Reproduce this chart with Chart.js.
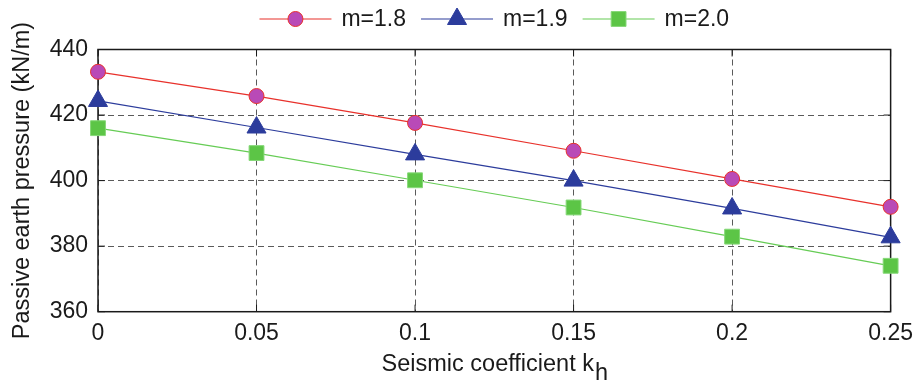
<!DOCTYPE html>
<html>
<head>
<meta charset="utf-8">
<script src="https://cdn.jsdelivr.net/npm/chart.js@4"></script>
<style>
  html, body { margin: 0; padding: 0; background: #fff; }
  #wrap { width: 921px; height: 383px; }
</style>
</head>
<body>
<div id="wrap"><canvas id="chart" width="921" height="383"></canvas></div>
<script>
// values
const kh = [0, 0.05, 0.1, 0.15, 0.2, 0.25];
const m18 = [433.2, 425.8, 417.6, 409.1, 400.5, 392.0];
const m19 = [424.3, 416.2, 408.0, 400.0, 391.5, 382.7];
const m20 = [416.0, 408.4, 400.1, 391.8, 382.9, 374.0];
const seriesNames = ['m=1.8', 'm=1.9', 'm=2.0'];
const xTicks = [0, 0.05, 0.1, 0.15, 0.2, 0.25];
const yTicks = [360, 380, 400, 420, 440];

const FONT = 'Liberation Sans, Arial, Helvetica, sans-serif';
const TXT = '#1a1a1a';

function pts(vals) {
    return vals.map((v, i) => ({ x: kh[i], y: v }));
}

// frame + inner ticks, drawn under the markers
const framePlugin = {
    id: 'frame',
    beforeDatasetsDraw(chart) {
        const { ctx, chartArea: a, scales } = chart;
        ctx.save();
        ctx.strokeStyle = '#1a1a1a';
        ctx.lineWidth = 1.5;
        ctx.setLineDash([]);
        ctx.strokeRect(a.left, a.top, a.right - a.left, a.bottom - a.top);
        ctx.lineWidth = 1;
        yTicks.forEach(t => {
            const y = scales.y.getPixelForValue(t);
            ctx.beginPath();
            ctx.moveTo(a.left, y); ctx.lineTo(a.left + 7, y);
            ctx.moveTo(a.right, y); ctx.lineTo(a.right - 7, y);
            ctx.stroke();
        });
        xTicks.forEach(t => {
            const x = scales.x.getPixelForValue(t);
            ctx.beginPath();
            ctx.moveTo(x, a.bottom); ctx.lineTo(x, a.bottom - 7);
            ctx.moveTo(x, a.top); ctx.lineTo(x, a.top + 7);
            ctx.stroke();
        });
        ctx.restore();
    }
};

// legend with line + marker, and x title with subscript
const extrasPlugin = {
    id: 'extras',
    afterDraw(chart) {
        const { ctx, chartArea: a } = chart;
        ctx.save();
        ctx.font = '23px ' + FONT;
        ctx.fillStyle = TXT;
        ctx.textBaseline = 'middle';
        const lineLen = 72, gapTxt = 10, gapItem = 15;
        const sets = chart.data.datasets;
        let total = 0;
        const widths = sets.map(d => ctx.measureText(d.label).width);
        widths.forEach((w, i) => { total += lineLen + gapTxt + w + (i < sets.length - 1 ? gapItem : 0); });
        let x = (a.left + a.right) / 2 - total / 2;
        const y = 19;
        sets.forEach((d, i) => {
            ctx.strokeStyle = d.borderColor;
            ctx.lineWidth = d.borderWidth;
            ctx.beginPath();
            ctx.moveTo(x, y); ctx.lineTo(x + lineLen, y);
            ctx.stroke();
            ctx.fillStyle = d.pointBackgroundColor;
            ctx.strokeStyle = d.pointBorderColor;
            ctx.lineWidth = d.pointBorderWidth;
            Chart.helpers.drawPoint(ctx, {
                pointStyle: d.pointStyle, radius: d.pointRadius, borderWidth: d.pointBorderWidth, rotation: 0
            }, x + lineLen / 2, y);
            ctx.fillStyle = TXT;
            ctx.textAlign = 'left';
            ctx.fillText(d.label, x + lineLen + gapTxt, y + 1);
            x += lineLen + gapTxt + widths[i] + gapItem;
        });

        // x axis title
        ctx.font = '23.5px ' + FONT;
        ctx.textBaseline = 'alphabetic';
        const main = 'Seismic coefficient k';
        const sub = 'h';
        const w1 = ctx.measureText(main).width;
        const w2 = ctx.measureText(sub).width;
        const x0 = (a.left + a.right) / 2 - (w1 + w2) / 2;
        ctx.fillText(main, x0, 370.5);
        ctx.fillText(sub, x0 + w1 + 1, 380);
        ctx.restore();
    }
};

const gridStyle = {
    color: '#5a5a5a',
    lineWidth: 1,
    drawTicks: false
};

new Chart(document.getElementById('chart'), {
    type: 'line',
    data: {
        datasets: [
            {
                label: seriesNames[0], data: pts(m18),
                borderColor: '#e8312b', borderWidth: 1.2,
                pointStyle: 'circle', pointRadius: 7.5,
                pointBackgroundColor: '#b94ab7', pointBorderColor: '#e8312b', pointBorderWidth: 1,
                clip: false
            },
            {
                label: seriesNames[1], data: pts(m19),
                borderColor: '#2c3c9c', borderWidth: 1.2,
                pointStyle: 'triangle', pointRadius: 11,
                pointBackgroundColor: '#2c3c9c', pointBorderColor: '#2c3c9c', pointBorderWidth: 1,
                clip: false
            },
            {
                label: seriesNames[2], data: pts(m20),
                borderColor: '#66cc55', borderWidth: 1.2,
                pointStyle: 'rect', pointRadius: 10.5,
                pointBackgroundColor: '#5cc546', pointBorderColor: '#86d878', pointBorderWidth: 1,
                clip: false
            }
        ]
    },
    options: {
        responsive: false,
        animation: false,
        layout: { padding: { top: 49.5, right: 29, left: 0, bottom: 0 } },
        plugins: { legend: { display: false }, tooltip: { enabled: false } },
        elements: { line: { tension: 0 } },
        scales: {
            x: {
                type: 'linear', min: 0, max: 0.25,
                afterBuildTicks: s => { s.ticks = xTicks.map(v => ({ value: v })); },
                afterFit: s => { s.height = 71.3; },
                ticks: {
                    color: TXT, padding: 8,
                    font: { family: FONT, size: 23 },
                    callback: v => String(v),
                    maxRotation: 0
                },
                grid: Object.assign({}, gridStyle, { tickBorderDash: [6, 4] }),
                border: { display: false, dash: [6, 4] }
            },
            y: {
                min: 360, max: 440,
                afterBuildTicks: s => { s.ticks = yTicks.map(v => ({ value: v })); },
                afterFit: s => { s.width = 98; },
                ticks: {
                    color: TXT, padding: 10,
                    font: { family: FONT, size: 23 }
                },
                grid: gridStyle,
                border: { display: false, dash: [6, 4] },
                title: {
                    display: true, text: 'Passive earth pressure (kN/m)',
                    color: TXT, font: { family: FONT, size: 23.5 },
                    padding: { top: 8, bottom: 0 }
                }
            }
        }
    },
    plugins: [framePlugin, extrasPlugin]
});
</script>
</body>
</html>
